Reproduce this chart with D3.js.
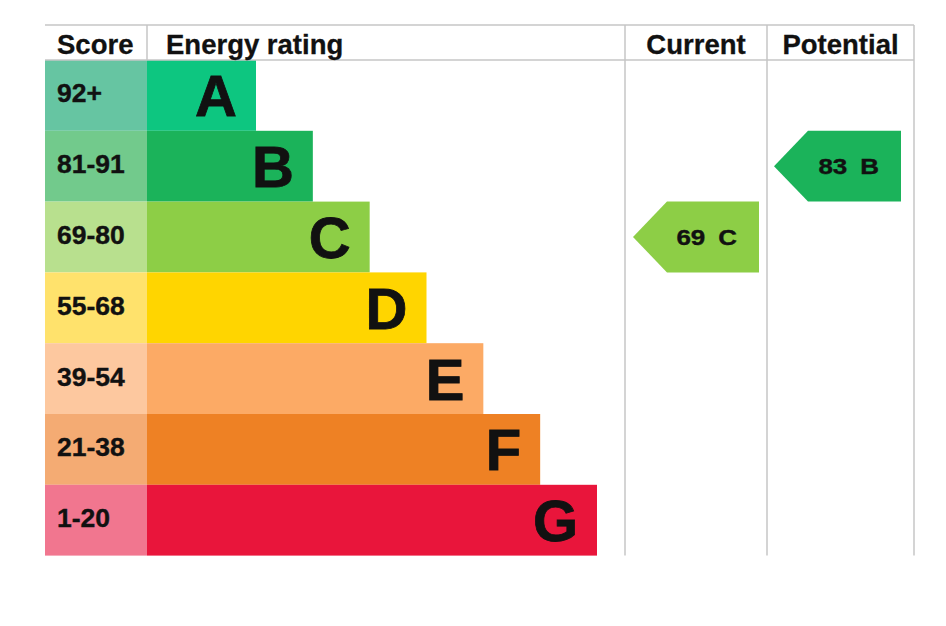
<!DOCTYPE html>
<html>
<head>
<meta charset="utf-8">
<script src="https://cdn.jsdelivr.net/npm/d3@7"></script>
<style>
  body { margin: 0; background: #fff; }
  text { font-family: "Liberation Sans", Arial, Helvetica, sans-serif; font-weight: bold; fill: #111; }
</style>
</head>
<body>
<div id="epc"></div>
<script>
// rating bands, best to worst
const letters = ["A", "B", "C", "D", "E", "F", "G"];
const scoreRanges = ["92+", "81-91", "69-80", "55-68", "39-54", "21-38", "1-20"];
const bandMin = [92, 81, 69, 55, 39, 21, 1];
const barColors = ["#0dc680", "#1bb35a", "#8dce46", "#ffd500", "#fcaa65", "#ee8124", "#e9153b"];
const scoreColors = ["#66c5a2", "#72ca8c", "#b8e08e", "#ffe26c", "#fdc89f", "#f4ab73", "#f1768f"];
const headers = ["Score", "Energy rating", "Current", "Potential"];
const currentScore = 69;
const potentialScore = 83;

const W = 946, H = 626;
const tableLeft = 45, tableTop = 25, headH = 35, rowH = 70.8;
const scoreW = 102;
const colCurrent = 625, colPotential = 767, tableRight = 914;

const svg = d3.select("#epc")
  .append("svg")
  .attr("width", W)
  .attr("height", H);

// ---------------- scales ----------------
const y = d3.scaleBand()
  .domain(letters)
  .range([tableTop + headH, tableTop + headH + rowH * letters.length])
  .padding(0);

// bar length grows by one step per band
const barLen = d3.scaleLinear()
  .domain([0, letters.length - 1])
  .range([109, 450]);

function bandOf(score) {
  const i = bandMin.findIndex(m => score >= m);
  return letters[i];
}

// ---------------- rows ----------------
const rows = svg.selectAll("g.row")
  .data(letters)
  .enter()
  .append("g")
  .attr("class", "row");

rows.append("rect")
  .attr("x", tableLeft)
  .attr("y", d => y(d))
  .attr("width", scoreW)
  .attr("height", y.bandwidth())
  .style("fill", (d, i) => scoreColors[i]);

rows.append("rect")
  .attr("x", tableLeft + scoreW)
  .attr("y", d => y(d))
  .attr("width", (d, i) => barLen(i))
  .attr("height", y.bandwidth())
  .style("fill", (d, i) => barColors[i]);

rows.append("text")
  .attr("x", tableLeft + 12)
  .attr("y", d => y(d) + y.bandwidth() / 2 + 7)
  .style("font-size", "26.5px")
  .style("stroke", "#111").style("stroke-width", 0.4)
  .text((d, i) => scoreRanges[i]);

rows.append("text")
  .attr("x", (d, i) => tableLeft + scoreW + barLen(i) - 19)
  .attr("y", d => y(d) + y.bandwidth() / 2 + 21)
  .attr("text-anchor", "end")
  .style("font-size", "58px")
  .style("stroke", "#111").style("stroke-width", 0.8)
  .text(d => d);

// ---------------- grid lines ----------------
const gridColor = "#c6c6c6";
const tableBottom = y.range()[1];
[tableTop, tableTop + headH].forEach(yy => {
  svg.append("line")
    .attr("x1", tableLeft).attr("x2", tableRight)
    .attr("y1", yy).attr("y2", yy)
    .style("stroke", gridColor).style("stroke-width", 1.5);
});
svg.append("line")
  .attr("x1", tableLeft + scoreW).attr("x2", tableLeft + scoreW)
  .attr("y1", tableTop).attr("y2", tableTop + headH)
  .style("stroke", gridColor).style("stroke-width", 1.5);
[colCurrent, colPotential, tableRight].forEach(xx => {
  svg.append("line")
    .attr("x1", xx).attr("x2", xx)
    .attr("y1", tableTop).attr("y2", tableBottom)
    .style("stroke", gridColor).style("stroke-width", 1.5);
});

// ---------------- headers ----------------
const headX = [tableLeft + 12, tableLeft + scoreW + 19, (colCurrent + colPotential) / 2, (colPotential + tableRight) / 2];
const headAnchor = ["start", "start", "middle", "middle"];
svg.selectAll("text.head")
  .data(headers)
  .enter()
  .append("text")
  .attr("class", "head")
  .attr("x", (d, i) => headX[i])
  .attr("y", tableTop + 28.5)
  .attr("text-anchor", (d, i) => headAnchor[i])
  .style("font-size", "27.5px")
  .style("stroke", "#111").style("stroke-width", 0.3)
  .text(d => d);

// ---------------- arrows ----------------
function arrow(score, x0, x1) {
  const band = bandOf(score);
  const i = letters.indexOf(band);
  const y0 = y(band), h = y.bandwidth();
  const tip = 34;
  const pts = [[x0, y0 + h / 2], [x0 + tip, y0], [x1, y0], [x1, y0 + h], [x0 + tip, y0 + h]];
  svg.append("polygon")
    .attr("points", pts.map(p => p.join(",")).join(" "))
    .style("fill", barColors[i]);
  // label is drawn a little wide, as in the original
  const t = svg.append("text")
    .attr("transform", `translate(${x1 - 22},${y0 + h / 2 + 7.6}) scale(1.18,1)`)
    .attr("text-anchor", "end")
    .style("font-size", "22px")
    .style("stroke", "#111").style("stroke-width", 0.4);
  t.append("tspan").text(score);
  t.append("tspan").attr("dx", 11).text(band);
}

arrow(currentScore, colCurrent + 8, colCurrent + 134);
arrow(potentialScore, colPotential + 7, colPotential + 134);
</script>
</body>
</html>
